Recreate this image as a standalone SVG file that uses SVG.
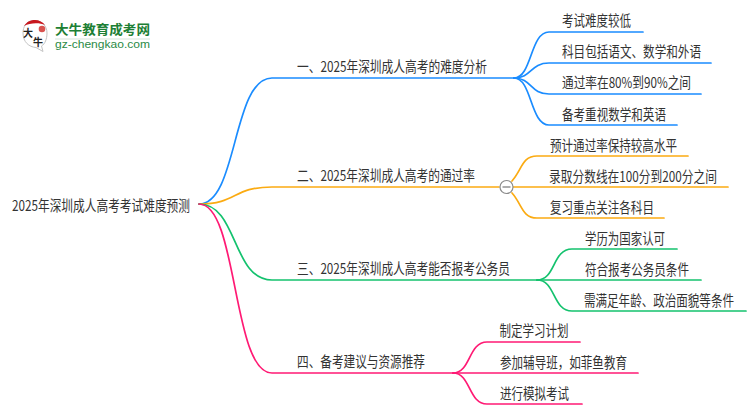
<svg xmlns="http://www.w3.org/2000/svg" width="750" height="410" viewBox="0 0 750 410">
<style>
text{font-family:"Noto Sans CJK SC","Noto Sans",sans-serif;fill:#333;font-size:15px}
.c{fill:none;stroke-width:1.700;stroke-linecap:round}
.b{stroke:#1a8cff}.o{stroke:#fbab12}.g{stroke:#14c26e}.p{stroke:#ff1a74}
.lt{fill:#1d7f35;font-weight:700;font-size:13px}
.lu{fill:#2a8a45;font-size:10.500px;font-family:"Liberation Sans",sans-serif}
.h{font-size:10px;fill:#222;font-weight:700}
</style>
<rect width="750" height="410" fill="#fff"/>
<g id="logo">
<path d="M34 20.500C26 20.500 23 27 23 33C23 42 29 47 36 47.500L43 51.500L41.500 46C45 44 47 39 47 33C47 26 42 20.500 34 20.500Z" fill="#fff" stroke="#c4c4c4" stroke-width="1"/>
<path d="M24 26C27 21.500 31 20 35 20C39 20 43 22 45 25C40 22.500 30 22.500 24 26Z" fill="#c8171e"/>
<circle cx="42" cy="29" r="3.300" fill="#d9534f"/>
<text class="h" x="23" y="37">大</text>
<text class="h" x="33" y="46">牛</text>
<text class="lt" x="55" y="34" textLength="95" lengthAdjust="spacingAndGlyphs">大牛教育成考网</text>
<line x1="55" y1="39" x2="150" y2="39" stroke="#d5e5da" stroke-width="1"/>
<text class="lu" x="55" y="47.500" textLength="95" lengthAdjust="spacingAndGlyphs">gz-chengkao.com</text>
</g>
<g id="connectors">
<path class="c b" d="M199 204C238 204 232 78 272 78H516"/>
<path class="c o" d="M199 204C238 204 232 187 272 187H499"/>
<path class="c g" d="M199 204C238 204 232 280 272 280H537"/>
<path class="c p" d="M199 204C238 204 232 373 272 373H453"/>
<path class="c b" d="M514 78C532 78 530 32 549 32H643"/>
<path class="c b" d="M514 78C532 78 530 63 549 63H711"/>
<path class="c b" d="M514 78C532 78 530 94 549 94H701"/>
<path class="c b" d="M514 78C532 78 530 125 549 125H677"/>
<path class="c o" d="M512 181C522 170 522 156 537 156H688"/>
<path class="c o" d="M513 187H728"/>
<path class="c o" d="M512 193C522 204 522 218 537 218H664"/>
<path class="c g" d="M537 280C556 280 552 249 572 249H677"/>
<path class="c g" d="M537 280H701"/>
<path class="c g" d="M537 280C556 280 552 311 572 311H746"/>
<path class="c p" d="M453 373C471 373 468 342 487 342H580"/>
<path class="c p" d="M453 373H638"/>
<path class="c p" d="M453 373C471 373 468 404 487 404H582"/>
</g>
<g id="root"><text transform="matrix(.773 0 0 1 12 211)" textLength="230.300" lengthAdjust="spacingAndGlyphs">2025年深圳成人高考考试难度预测</text></g>
<g id="n1"><text transform="matrix(.773 0 0 1 297 72)" textLength="245.800" lengthAdjust="spacingAndGlyphs">一、2025年深圳成人高考的难度分析</text></g>
<g id="n1-1"><text transform="matrix(.773 0 0 1 562 26)" textLength="89.300" lengthAdjust="spacingAndGlyphs">考试难度较低</text></g>
<g id="n1-2"><text transform="matrix(.773 0 0 1 562 57)" textLength="179.800" lengthAdjust="spacingAndGlyphs">科目包括语文、数学和外语</text></g>
<g id="n1-3"><text transform="matrix(.773 0 0 1 562 88)" textLength="166.900" lengthAdjust="spacingAndGlyphs">通过率在80%到90%之间</text></g>
<g id="n1-4"><text transform="matrix(.773 0 0 1 562 119.500)" textLength="134.500" lengthAdjust="spacingAndGlyphs">备考重视数学和英语</text></g>
<g id="n2"><text transform="matrix(.773 0 0 1 297 181)" textLength="230.300" lengthAdjust="spacingAndGlyphs">二、2025年深圳成人高考的通过率</text></g>
<g id="n2-toggle"><circle cx="506.500" cy="187" r="6.500" fill="#fff" stroke="#8a8a8a" stroke-width="1.200"/><line x1="502.500" y1="187" x2="510.500" y2="187" stroke="#777" stroke-width="1.200"/></g>
<g id="n2-1"><text transform="matrix(.773 0 0 1 550 150.500)" textLength="164.300" lengthAdjust="spacingAndGlyphs">预计通过率保持较高水平</text></g>
<g id="n2-2"><text transform="matrix(.773 0 0 1 549 181.500)" textLength="217.300" lengthAdjust="spacingAndGlyphs">录取分数线在100分到200分之间</text></g>
<g id="n2-3"><text transform="matrix(.773 0 0 1 550 212.500)" textLength="134.500" lengthAdjust="spacingAndGlyphs">复习重点关注各科目</text></g>
<g id="n3"><text transform="matrix(.773 0 0 1 297 274)" textLength="275.500" lengthAdjust="spacingAndGlyphs">三、2025年深圳成人高考能否报考公务员</text></g>
<g id="n3-1"><text transform="matrix(.773 0 0 1 585 244)" textLength="103.500" lengthAdjust="spacingAndGlyphs">学历为国家认可</text></g>
<g id="n3-2"><text transform="matrix(.773 0 0 1 585 274.500)" textLength="134.500" lengthAdjust="spacingAndGlyphs">符合报考公务员条件</text></g>
<g id="n3-3"><text transform="matrix(.773 0 0 1 584 305.500)" textLength="194" lengthAdjust="spacingAndGlyphs">需满足年龄、政治面貌等条件</text></g>
<g id="n4"><text transform="matrix(.773 0 0 1 297 367)" textLength="165.600" lengthAdjust="spacingAndGlyphs">四、备考建议与资源推荐</text></g>
<g id="n4-1"><text transform="matrix(.773 0 0 1 499.500 336)" textLength="89.300" lengthAdjust="spacingAndGlyphs">制定学习计划</text></g>
<g id="n4-2"><text transform="matrix(.773 0 0 1 500 367.500)" textLength="164.300" lengthAdjust="spacingAndGlyphs">参加辅导班，如菲鱼教育</text></g>
<g id="n4-3"><text transform="matrix(.773 0 0 1 500 398.500)" textLength="89.300" lengthAdjust="spacingAndGlyphs">进行模拟考试</text></g>
</svg>
